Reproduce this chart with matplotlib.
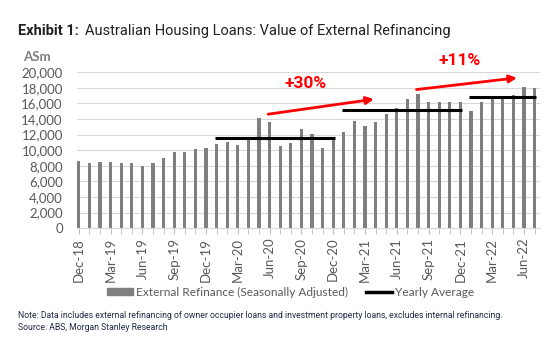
import numpy as np
import pandas as pd
import matplotlib
matplotlib.use("Agg")
import matplotlib.pyplot as plt
from matplotlib.lines import Line2D
from matplotlib.patches import Patch

# monthly value of external refinancing, A$m (seasonally adjusted)
months = pd.date_range("2018-12-01", periods=44, freq="MS")
refi = [8550, 8290, 8460, 8420, 8290, 8290, 7990, 8290, 9020, 9700, 9700, 10090,
        10300, 10770, 11070, 10640, 11500, 14100, 13550, 10470, 10940, 12690, 12050, 10300,
        11330, 12350, 13680, 13120, 13590, 14620, 15390, 16620, 17180, 16110, 16150, 16150,
        16110, 15000, 16150, 16620, 16540, 17090, 18120, 17910]
# calendar years for the average lines
years = [2020, 2021, 2022]
growth_labels = ["+30%", "+11%"]

grey = "#7f7f7f"
txt = "#595959"

fig = plt.figure(figsize=(5.56, 3.42), dpi=100)
ax = fig.add_axes([0.138, 0.333, 0.833, 0.456])

x = np.arange(len(refi))
ax.bar(x, refi, width=0.3, color=grey, zorder=2)

# yearly averages drawn across the months of each year
for yr in years:
    idx = np.where(months.year == yr)[0]
    avg = np.mean(np.array(refi)[idx])
    ax.plot([idx[0] - 0.15, idx[-1] + 0.15], [avg, avg], color="black", lw=2.2, zorder=3,
            solid_capstyle="butt")

ax.set_ylim(0, 20000)
ax.set_xlim(-0.2, len(refi) - 0.5)
ax.set_yticks(np.arange(0, 20001, 2000))
ax.set_yticklabels([f"{v:,}" for v in range(0, 20001, 2000)], fontsize=9.5, color=txt,
                   family="Lato")
ax.grid(axis="y", color="#d9d9d9", lw=0.8, zorder=0)
ax.set_axisbelow(True)
for s in ["top", "right", "left"]:
    ax.spines[s].set_visible(False)
ax.spines["bottom"].set_color("#d9d9d9")
ax.tick_params(axis="y", length=0, pad=10)

ax.set_xticks(x, minor=True)
ax.set_xticks(x[::3])
ax.set_xticklabels([m.strftime("%b-%y") for m in months[::3]], rotation=90, fontsize=9.5,
                   color=txt, family="Lato")
ax.tick_params(axis="x", which="both", length=4, color="#bfbfbf", pad=3)

ax.text(-0.085, 1.06, "ASm", transform=ax.transAxes, ha="center", va="bottom",
        fontsize=9.5, fontweight="bold", color=grey, family="Lato")

# red growth arrows between the yearly averages
arr = dict(arrowstyle="-|>", color="red", lw=2, mutation_scale=11)
ax.annotate("", xy=(28.1, 16580), xytext=(17.6, 14560), arrowprops=arr, annotation_clip=False)
ax.annotate("", xy=(41.6, 19310), xytext=(31.6, 17730), arrowprops=arr, annotation_clip=False)
ax.text(21.4, 18550, growth_labels[0], color="red", fontsize=12.5, fontweight="bold",
        ha="center", va="center", family="Roboto")
ax.text(35.9, 21450, growth_labels[1], color="red", fontsize=12.5, fontweight="bold",
        ha="center", va="center", family="Roboto", clip_on=False)

handles = [Patch(color=grey), Line2D([], [], color="black", lw=2.5)]
fig.legend(handles, ["External Refinance (Seasonally Adjusted)", "Yearly Average"],
           loc="center", bbox_to_anchor=(0.523, 0.145), ncol=2, frameon=False,
           prop={"family": "Lato", "size": 8.6}, labelcolor=txt, handlelength=2.2,
           handleheight=0.55, handletextpad=0.25, columnspacing=1.5)

fig.text(0.032, 0.91, "Exhibit 1:", fontsize=10.5, fontweight="bold", color="#222222",
         family="Roboto", va="center")
fig.text(0.152, 0.91, "Australian Housing Loans: Value of External Refinancing", fontsize=10.5,
         color="#222222", family="Roboto", va="center")
fig.text(0.032, 0.077, "Note: Data includes external refinancing of owner occupier loans and "
         "investment property loans, excludes internal refinancing.", fontsize=6.2,
         color="#1f2a44", family="Roboto", va="center")
fig.text(0.032, 0.042, "Source: ABS, Morgan Stanley Research", fontsize=6.2, color="#1f2a44",
         family="Roboto", va="center")

fig.savefig("out.png", dpi=100)
